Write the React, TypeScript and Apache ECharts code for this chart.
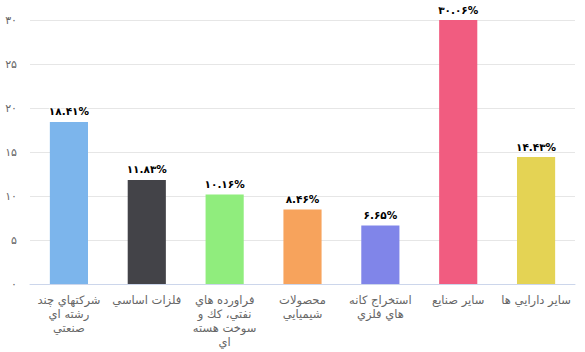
import React, { useEffect, useRef } from "react";
import * as echarts from "echarts";

const categories = [
  "شرکتهاي چند\nرشته اي\nصنعتي",
  "فلزات اساسي",
  "فراورده هاي\nنفتي، كك و\nسوخت هسته\nاي",
  "محصولات\nشيميايي",
  "استخراج کانه\nهاي فلزي",
  "ساير صنايع",
  "ساير دارايي ها",
];
const values = [18.41, 11.83, 10.16, 8.46, 6.65, 30.06, 14.43];
const colors = ["#7cb5ec", "#434348", "#90ed7d", "#f7a35c", "#8085e9", "#f15c80", "#e4d354"];

const faDigits = "۰۱۲۳۴۵۶۷۸۹";
const toFa = (s: string) => s.replace(/[0-9]/g, (d) => faDigits[+d]);

export default function App() {
  const ref = useRef<HTMLDivElement>(null);
  useEffect(() => {
    const chart = echarts.init(ref.current!, null, { renderer: "svg" });
    chart.setOption({
      animation: false,
      grid: { left: 30, right: 10, top: 20, bottom: 68 },
      xAxis: {
        type: "category",
        data: categories,
        axisTick: { show: false },
        axisLine: { lineStyle: { color: "#ccd6eb" } },
        axisLabel: {
          interval: 0,
          color: "#666666",
          fontSize: 11.5,
          lineHeight: 14,
          margin: 9,
          fontFamily: "DejaVu Sans",
        },
      },
      yAxis: {
        type: "value",
        min: 0,
        max: 30,
        interval: 5,
        axisLine: { show: false },
        axisTick: { show: false },
        splitLine: { lineStyle: { color: "#e6e6e6" } },
        axisLabel: {
          color: "#666666",
          fontSize: 11,
          margin: 13,
          fontFamily: "DejaVu Sans",
          formatter: (v: number) => toFa(String(v)),
        },
      },
      series: [
        {
          type: "bar",
          barWidth: "49%",
          data: values.map((v, i) => ({ value: v, itemStyle: { color: colors[i] } })),
          label: {
            show: true,
            position: "top",
            distance: 5,
            color: "#000000",
            fontWeight: "bold",
            fontSize: 10.5,
            fontFamily: "DejaVu Sans",
            textBorderColor: "#ffffff",
            textBorderWidth: 2,
            formatter: (p: any) => toFa(p.value.toFixed(2)) + "%",
          },
        },
      ],
    });
    return () => chart.dispose();
  }, []);
  return (
    <div
      ref={ref}
      style={{ position: "absolute", left: 0, top: 0, width: 585, height: 352, background: "#fff" }}
    />
  );
}
